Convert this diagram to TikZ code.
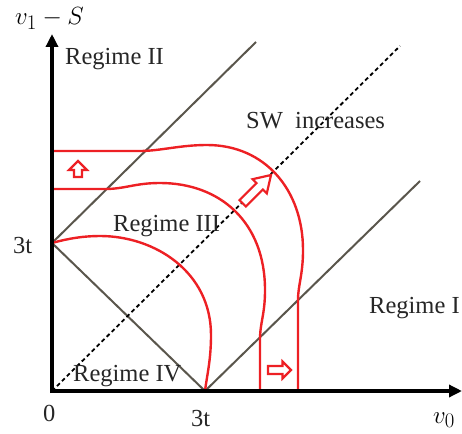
\documentclass[tikz,border=0pt]{standalone}
\usepackage{fontspec}
\setmainfont{Liberation Serif}
\usetikzlibrary{arrows.meta}
\definecolor{regred}{RGB}{237,32,36}
\definecolor{bnd}{RGB}{90,86,76}
\tikzset{
  axis/.style={line width=4pt,-{Triangle[length=13pt,width=12pt]}},
  bndline/.style={bnd,line width=2pt},
  curve/.style={regred,line width=2.4pt},
  blockarrow/.style={regred,line width=2.2pt,fill=white,line join=miter},
  lbl/.style={font=\fontsize{24.5}{28}\selectfont,text=black!85,inner sep=0pt,anchor=base west},
  mlbl/.style={font=\fontsize{28}{32}\selectfont,inner sep=0pt,anchor=base west}
}
\begin{document}
\begin{tikzpicture}[x=1pt,y=-1pt]
\useasboundingbox (0,0) rectangle (462,433);
% boundary lines
\coordinate (A) at (52,243);
\coordinate (B) at (205,391);
\coordinate (A2) at (256,42);
\coordinate (B2) at (420,181);
\coordinate (O) at (52,391);
\coordinate (D) at (400,46);
\draw[bndline] (A) -- (A2);
\draw[bndline] (B) -- (B2);
\draw[bndline] (A) -- (B);
\draw[line width=1.8pt,dash pattern=on 4pt off 3pt] (O) -- (D);
% red curves
\draw[curve] (A) .. controls (70,238) and (85,236) .. (100,236)
  .. controls (155,236) and (211,272) .. (211,335)
  .. controls (211,360) and (207,375) .. (B);
\draw[curve] (52,189) -- (105,189) .. controls (125,189) and (135,183) .. (160,183)
  .. controls (220,183) and (265,222) .. (265,290)
  .. controls (265,315) and (260,322) .. (260,340) -- (260,391);
\draw[curve] (52,151) -- (140,151) .. controls (160,151) and (180,145) .. (207,145)
  .. controls (265,145) and (303,190) .. (303,250)
  .. controls (303,275) and (298,285) .. (298,300) -- (298,391);
% axes
\draw[axis] (52,393) -- (52,34);
\draw[axis] (50,391) -- (462,391);
% block arrows
\draw[blockarrow] (78,161) -- (87,170) -- (82,170) -- (82,177) -- (74,177) -- (74,170) -- (69,170) -- cycle;
\draw[blockarrow] (291,370) -- (282.5,361.5) -- (282.5,366) -- (268,366) -- (268,374) -- (282.5,374) -- (282.5,378.5) -- cycle;
\draw[blockarrow] (271,175) -- (266.8,193.4) -- (262.9,189.5) -- (245.9,206.5) -- (239.5,200.1) -- (256.5,183.1) -- (252.6,179.2) -- cycle;
% labels
\node[mlbl] (ly) at (15,25) {$v_1-S$};
\node[mlbl] (lx) at (433,423) {$v_0$};
\node[lbl] (r2) at (65,65) {Regime II};
\node[lbl] (sw) at (246,128) {SW\ \ increases};
\node[lbl] (r3) at (113,231) {Regime III};
\node[lbl] (r4) at (73,381) {Regime IV};
\node[lbl] (r1) at (369,313) {Regime I};
\node[lbl] (t3y) at (13,253) {3t};
\node[lbl] (t3x) at (191,426) {3t};
\node[lbl] (zero) at (43,421) {0};
\end{tikzpicture}
\end{document}
